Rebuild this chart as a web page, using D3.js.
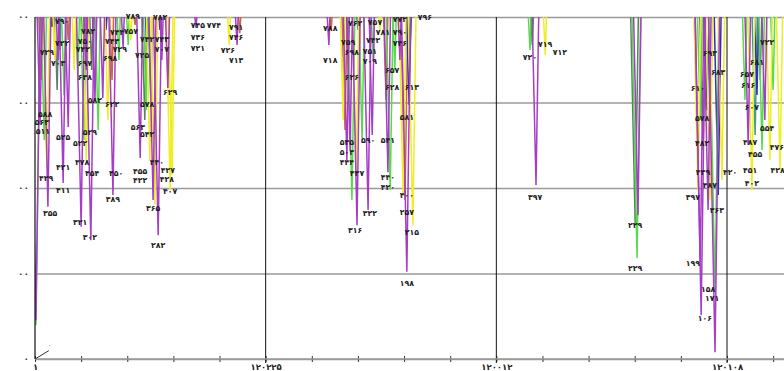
<!DOCTYPE html>
<html><head><meta charset="utf-8">
<script src="https://cdn.jsdelivr.net/npm/d3@7"></script>
<style>body{margin:0;background:#fff}svg{display:block}</style>
</head><body><svg id="c" width="784" height="371"></svg>
<script>
// ---------- data ----------
const xTickValues = [0, 50, 100, 150];
const xTickLabels = ["۱", "۱۲۰۲۲۵", "۱۲۰۰۱۲", "۱۲۰۱۰۸"];
const yTickValues = [-20, 185, 390, 595, 800];
const yTickLabels = ["۰", "۰۰", "۰۰", "۰۰", "۰۰"];

// spikes: [position, value reached]
const grayGreenSpikes = [[4.8,625],[23.8,553],[70.0,769],[107.8,733],[130.1,301],[144.8,481],[157.2,649],[12.3,673]];
const tealSpikes = [[25.1,601],[81.3,721],[156.1,517],[5.4,721]];
const orangeSpikes = [[1.3,649],[7.2,745],[16.7,649],[21.7,781],[44.4,761],[67.2,529],[76.1,601],[80.2,361],[64.2,769]];
const blueSpikes = [[3.7,776],[10.4,769],[24.3,721],[27.1,769],[67.9,745],[81.1,589],[145.7,577],[148.1,373],[156.5,613],[15.4,769]];
const greenSpikes = [[0.2,61],[2.0,505],[6.3,613],[10.6,505],[18.2,697],[20.2,733],[24.1,577],[9.3,649],[68.7,361],[73.3,697],[77.0,385],[78.0,673],[107.3,721],[130.5,222],[144.2,553],[147.4,145],[153.9,601],[157.6,481],[160.0,625],[13.7,529],[70.9,505]];
const yellowSpikes = [[2.6,438],[4.3,697],[11.1,457],[8.5,673],[20.8,745],[24.9,457],[26.0,349],[29.3,385],[29.7,421],[42.1,733],[69.6,421],[74.8,769],[79.8,373],[81.9,301],[110.6,709],[143.7,385],[146.3,361],[148.9,409],[155.4,385],[159.3,457],[161.5,433],[15.8,553],[66.8,553]];
const purpleSpikes = [[0.2,73],[1.1,544],[2.8,345],[6.1,402],[7.2,536],[10.0,297],[12.1,265],[13.0,601],[14.7,606],[16.9,373],[19.1,726],[22.8,462],[26.7,277],[25.6,361],[27.5,697],[28.8,630],[5.0,697],[11.1,673],[34.9,774],[43.8,733],[63.7,733],[67.6,457],[68.3,481],[69.8,301],[72.2,337],[73.1,517],[76.5,428],[79.1,697],[80.6,189],[108.6,397],[130.7,325],[144.4,85],[147.4,-4],[144.2,212],[145.9,337],[154.6,493],[158.2,553]];

// annotation labels: [position, level, number]
const pointLabels = [
 [5.9,790,790],[11.5,765,782],[21.2,802,789],[27.1,800,782],[5.9,738,722],[2.6,716,729],[5.0,690,703],
 [10.8,743,750],[10.4,722,742],[10.8,690,697],[10.8,656,638],[16.7,743,743],[17.8,764,744],[20.8,766,757],
 [18.4,723,729],[24.3,747,742],[27.5,747,743],[23.2,709,725],[27.5,723,707],[16.3,700,698],[29.3,620,629],
 [13.0,601,582],[16.7,591,622],[24.3,591,578],[2.2,567,588],[1.5,547,563],[1.7,526,511],[6.1,512,525],
 [11.9,524,529],[9.8,498,522],[22.3,536,563],[24.3,519,542],[6.1,440,421],[2.4,414,429],[10.2,452,478],
 [12.4,426,454],[17.6,426,450],[6.1,385,411],[16.9,364,389],[22.8,430,455],[22.8,408,422],[26.4,452,440],
 [28.8,433,427],[28.6,410,428],[29.3,381,407],[3.3,330,355],[25.6,342,365],[9.8,308,321],[11.9,272,302],
 [26.7,253,282],
 [35.3,781,745],[38.8,781,774],[43.6,776,791],[35.3,752,736],[43.6,752,746],[35.3,726,721],[41.8,721,726],[43.6,697,713],
 [64.0,774,788],[64.0,697,718],[69.4,786,762],[73.7,788,757],[67.9,740,759],[68.7,716,698],[75.4,764,781],
 [73.3,745,742],[72.6,717,751],[72.6,693,709],[79.1,795,772],[84.5,800,796],[79.1,764,790],[79.1,738,746],
 [77.4,673,657],[77.4,632,628],[81.7,632,613],[68.7,656,626],[80.6,560,581],[67.6,500,535],[72.2,505,590],
 [76.5,505,541],[67.6,476,503],[67.6,452,444],[69.8,426,437],[76.5,416,440],[76.5,392,420],[80.6,373,400],
 [72.6,330,322],[80.6,332,257],[69.4,289,316],[81.7,284,215],[80.6,162,198],
 [107.3,704,720],[110.6,735,719],[113.8,716,712],[108.4,368,397],
 [130.1,301,229],[130.1,198,229],
 [146.3,714,693],[148.1,668,683],[143.7,630,610],[144.6,558,578],[144.6,498,482],[144.8,428,439],[146.3,397,487],
 [142.6,368,397],[147.8,337,363],[142.6,210,199],[145.9,147,158],[146.8,125,171],[145.2,78,106],
 [158.7,740,722],[156.5,691,681],[154.3,663,657],[154.6,637,616],[155.4,584,607],[158.7,534,554],[155.0,500,487],
 [160.8,488,476],[156.1,471,455],[155.0,433,451],[150.7,428,420],[161.0,433,428],[155.4,402,402]
];

// ---------- chart ----------
const W = 784, H = 371;
const svg = d3.select("#c");
const x = d3.scaleLinear().domain([0, 150]).range([35, 727]);
const y = d3.scaleLinear().domain([-20, 800]).range([359, 17]);
const fa = v => String(v).replace(/\d/g, d => "۰۱۲۳۴۵۶۷۸۹"[d]);

svg.append("defs").append("clipPath").attr("id","plot")
  .append("rect").attr("x", 35).attr("y", y(800)).attr("width", W - 35).attr("height", y(-20) - y(800));

// horizontal gridlines + y labels
const yAxis = svg.append("g").attr("transform", "translate(35,0)")
  .call(d3.axisLeft(y).tickValues(yTickValues).tickSize(-(W - 35)).tickFormat((d, i) => yTickLabels[i]));
yAxis.select(".domain").remove();
yAxis.selectAll(".tick line").attr("stroke", "#9a9a9a").attr("stroke-width", 1.4);
yAxis.selectAll(".tick text").attr("x", -6).attr("font-family", "DejaVu Sans").attr("font-size", 9)
  .attr("font-weight", "bold").attr("fill", "#444");

// x axis
const xAxis = svg.append("g").attr("transform", `translate(0,${y(-20)})`)
  .call(d3.axisBottom(x).tickValues(d3.range(0, 161, 10)).tickSize(4)
    .tickFormat(d => { const i = xTickValues.indexOf(d); return i >= 0 ? xTickLabels[i] : ""; }));
xAxis.select(".domain").remove();
xAxis.selectAll(".tick line").attr("y1", -3).attr("y2", 3).attr("stroke", "#333");
xAxis.selectAll(".tick text").attr("y", 5).attr("font-family", "DejaVu Sans").attr("font-size", 8.5)
  .attr("font-weight", "bold").attr("fill", "#222");

// vertical gridlines
svg.append("g").selectAll("line").data(xTickValues.slice(1)).join("line")
  .attr("x1", d => x(d)).attr("x2", d => x(d)).attr("y1", y(800)).attr("y2", y(-20) + 4)
  .attr("stroke", "#111").attr("stroke-width", 1);

// spikes
const series = [
  [grayGreenSpikes, "#5d7f66"], [tealSpikes, "#3c9c98"], [orangeSpikes, "#c9693d"],
  [blueSpikes, "#2b2fb5"], [greenSpikes, "#56dc48"], [yellowSpikes, "#eeee22"], [purpleSpikes, "#a63dc6"]
];
const spikeLine = d3.line();
const gSp = svg.append("g").attr("clip-path", "url(#plot)");
series.forEach(([data, color]) => {
  gSp.selectAll(null).data(data).join("path")
    .attr("d", d => {
      const xb = x(d[0]), yb = y(d[1]), top = y(800);
      const w = 1.2 + (yb - top) * 0.016;
      return spikeLine([[xb - w, top - 2], [xb, yb], [xb + w * 0.7, top - 2]]);
    })
    .attr("fill", "none").attr("stroke", color).attr("stroke-width", 1.5);
});

// y axis line
svg.append("line").attr("x1", 35).attr("x2", 35).attr("y1", y(800)).attr("y2", y(-20))
  .attr("stroke", "#111").attr("stroke-width", 1.2);
svg.append("line").attr("x1", 35).attr("x2", W).attr("y1", y(-20)).attr("y2", y(-20))
  .attr("stroke", "#9a9a9a").attr("stroke-width", 1.4);

// labels
svg.append("g").selectAll("text").data(pointLabels).join("text")
  .attr("x", d => x(d[0])).attr("y", d => y(d[1]))
  .attr("dy", "0.35em").attr("text-anchor", "middle")
  .attr("font-family", "DejaVu Sans").attr("font-size", 7.8).attr("font-weight", "bold")
  .attr("fill", "#1e1e1e").text(d => fa(d[2]));

// small corner mark
svg.append("path").attr("d", `M${x(0)},${y(-20)} L${x(3)},${y(0)}`).attr("stroke", "#333").attr("fill", "none");
svg.append("text").attr("x", x(2.8)).attr("y", y(8)).attr("font-family", "DejaVu Sans")
  .attr("font-size", 6).attr("fill", "#333").text("۰");
</script></body></html>
